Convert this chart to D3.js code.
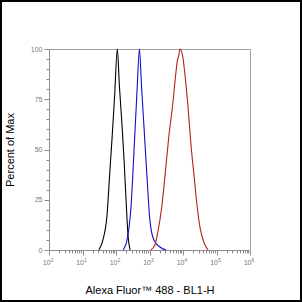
<!DOCTYPE html>
<html>
<head>
<meta charset="utf-8">
<script src="https://cdn.jsdelivr.net/npm/d3@7"></script>
<style>
  html, body { margin: 0; padding: 0; background: #fff; }
  svg { display: block; }
</style>
</head>
<body>
<svg></svg>
<script>
// data: x in log10 units of intensity, y in percent of max
const blackX = [1.49, 1.61, 1.73, 1.82, 1.88, 1.96, 2.04, 2.10, 2.18, 2.24, 2.30, 2.36, 2.42]
const blackY = [0, 5, 17, 40, 55, 77, 100, 82, 62, 45, 25, 7, 0]

const blueX = [2.21, 2.33, 2.45, 2.54, 2.63, 2.70, 2.76, 2.84, 2.93, 3.01, 3.13, 3.31, 3.49]
const blueY = [0, 5, 22, 50, 80, 100, 82, 60, 35, 15, 5, 1.5, 0]

const redX = [3.04, 3.16, 3.25, 3.37, 3.48, 3.58, 3.69, 3.78, 3.83, 3.87, 3.91, 3.99, 4.06, 4.15, 4.24, 4.33, 4.42, 4.51, 4.63, 4.75]
const redY = [0, 2.5, 9, 22, 40, 57, 72, 87, 94, 96.5, 100, 96.5, 87, 71, 52, 37, 22, 11, 3.5, 0]

const xTickExps = [0, 1, 2, 3, 4, 5, 6]
const yTicks = [0, 25, 50, 75, 100]

const width = 302
const height = 302
const padL = 49, padR = 250, padT = 49, padB = 250
const axisColor = '#8c8c8c'

let svg = d3.select('svg').attr('width', width).attr('height', height)

let xScale = d3.scaleLog().domain([1, 1e6]).range([padL, padR])
let yScale = d3.scaleLinear().domain([0, 100]).range([padB, padT])

// outer border
svg.append('rect')
    .attr('x', 1).attr('y', 1)
    .attr('width', width - 2).attr('height', height - 2)
    .attr('fill', 'none').attr('stroke', '#000').attr('stroke-width', 2)

// top + right frame
svg.append('path')
    .attr('d', `M${padL},${padT + 0.5}H${padR + 0.5}V${padB}`)
    .attr('fill', 'none').attr('stroke', '#a0a0a0').attr('stroke-width', 1)

// y axis
let yMinor = d3.range(0, 101, 5)
let yAxis = svg.append('g').attr('transform', `translate(${padL + 0.5},0)`)
yAxis.append('line').attr('x1', 0).attr('x2', 0).attr('y1', padT).attr('y2', padB)
    .attr('stroke', axisColor)
yAxis.selectAll('.ymin').data(yMinor).enter().append('line')
    .attr('x1', d => yTicks.includes(d) ? -5 : -3).attr('x2', 0)
    .attr('y1', d => Math.round(yScale(d)) + 0.5).attr('y2', d => Math.round(yScale(d)) + 0.5)
    .attr('stroke', axisColor)
yAxis.selectAll('text').data(yTicks).enter().append('text')
    .attr('x', -7).attr('y', d => yScale(d) + 2.5)
    .attr('text-anchor', 'end')
    .attr('font-family', 'Liberation Sans, Arial, sans-serif')
    .attr('font-size', 7).attr('fill', '#777')
    .text(d => d)

// x axis
let xAxis = svg.append('g').attr('transform', `translate(0,${padB + 0.5})`)
xAxis.append('line').attr('x1', padL).attr('x2', padR).attr('y1', 0).attr('y2', 0)
    .attr('stroke', axisColor)
let xMinor = []
xTickExps.slice(0, -1).forEach(e => {
    for (let m = 2; m <= 9; m++) xMinor.push(m * Math.pow(10, e))
})
xAxis.selectAll('.xmin').data(xMinor).enter().append('line')
    .attr('x1', d => Math.round(xScale(d)) + 0.5).attr('x2', d => Math.round(xScale(d)) + 0.5)
    .attr('y1', 0).attr('y2', 3)
    .attr('stroke', axisColor)
xAxis.selectAll('.xmaj').data(xTickExps).enter().append('line')
    .attr('x1', d => Math.round(xScale(Math.pow(10, d))) + 0.5)
    .attr('x2', d => Math.round(xScale(Math.pow(10, d))) + 0.5)
    .attr('y1', 0).attr('y2', 5)
    .attr('stroke', axisColor)
let xLab = xAxis.selectAll('.xl').data(xTickExps).enter().append('text')
    .attr('x', d => xScale(Math.pow(10, d)) - 1)
    .attr('y', 14)
    .attr('text-anchor', 'middle')
    .attr('font-family', 'Liberation Sans, Arial, sans-serif')
    .attr('font-size', 7).attr('fill', '#777')
xLab.append('tspan').text('10')
xLab.append('tspan').attr('dy', -3).attr('font-size', 5).text(d => d)

// curves
let line = d3.line()
    .x(d => xScale(Math.pow(10, d[0])))
    .y(d => yScale(d[1]))
    .curve(d3.curveMonotoneX)

const series = [
    { xs: blackX, ys: blackY, color: '#000000' },
    { xs: blueX, ys: blueY, color: '#1010c8' },
    { xs: redX, ys: redY, color: '#b02418' }
]
series.forEach(s => {
    svg.append('path')
        .datum(d3.zip(s.xs, s.ys))
        .attr('d', line)
        .attr('fill', 'none')
        .attr('stroke', s.color)
        .attr('stroke-width', 1.1)
})

// axis titles
svg.append('text')
    .attr('x', 150).attr('y', 294)
    .attr('text-anchor', 'middle')
    .attr('font-family', 'Liberation Sans, Arial, sans-serif')
    .attr('font-size', 11).attr('fill', '#000')
    .text('Alexa Fluor™ 488 - BL1-H')

svg.append('text')
    .attr('transform', 'translate(14,150) rotate(-90)')
    .attr('text-anchor', 'middle')
    .attr('font-family', 'Liberation Sans, Arial, sans-serif')
    .attr('font-size', 11).attr('fill', '#000')
    .text('Percent of Max')
</script>
</body>
</html>
